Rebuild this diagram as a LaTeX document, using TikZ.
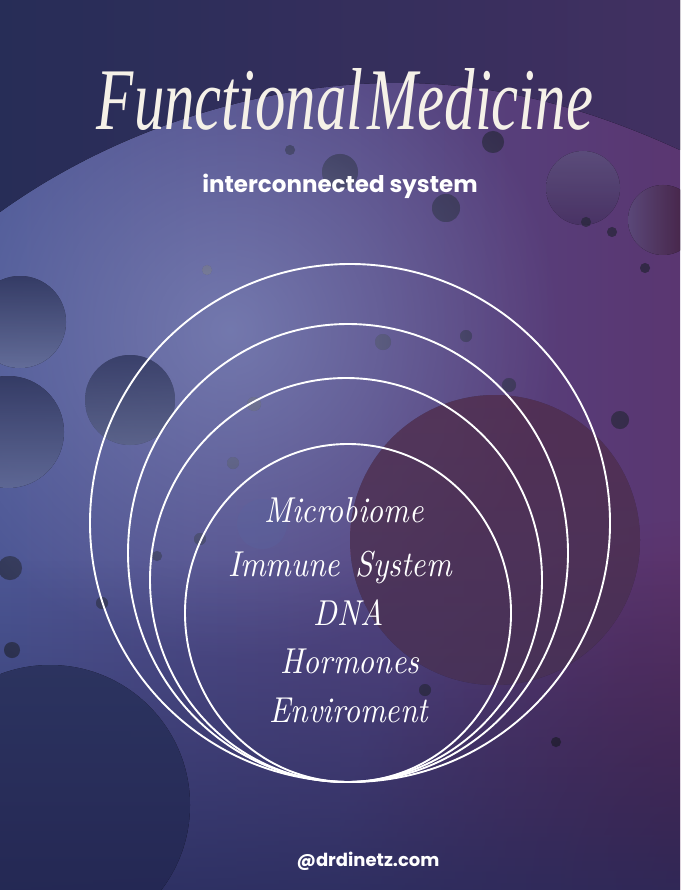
\documentclass[tikz,border=0pt]{standalone}
\usepackage{fontspec}
\usepackage{xcolor}
\newfontfamily\popfont{Poppins}
\newfontfamily\titlefont{Liberation Serif}
\newfontfamily\organfont{lmroman10-italic.otf}
\usetikzlibrary{fadings}

\definecolor{bgnavy}{HTML}{2A315E}
\definecolor{bgblue}{HTML}{4D5795}
\definecolor{bgslate}{HTML}{8A96C6}
\definecolor{bgpurple}{HTML}{5A3671}
\definecolor{bgwine}{HTML}{5A1A3C}
\definecolor{bgdeep}{HTML}{262A5A}
\definecolor{mauve}{HTML}{74426F}
\definecolor{cream}{HTML}{F5F1E8}

\tikzfading[name=softglow, inner color=transparent!0, outer color=transparent!100]
\tikzfading[name=fadeup, top color=transparent!100, bottom color=transparent!0]

\newcommand{\squeeze}[1]{\scalebox{0.87}[1]{#1}}

\begin{document}
\begin{tikzpicture}[
    x=1pt, y=-1pt,
    ring/.style={draw=white, line width=1.9pt},
    sphere/.style={opacity=0.55},
    bubble/.style={ball color=bgslate!80!bgblue, opacity=0.4},
    title/.style={text=cream, font=\titlefont\itshape, inner sep=0pt},
    subtitle/.style={text=white, font=\popfont\bfseries\fontsize{23}{26}\selectfont, inner sep=0pt},
    handle/.style={text=white, font=\popfont\bfseries\fontsize{18}{20}\selectfont, inner sep=0pt},
    organ/.style={text=white, font=\organfont\fontsize{36}{40}\selectfont, anchor=base, inner sep=0pt},
]

\useasboundingbox (0,0) rectangle (680,890);
\clip (0,0) rectangle (680,890);

% background
\fill[left color=bgblue, right color=bgpurple] (0,0) rectangle (680,890);
\fill[bgslate, opacity=0.6, path fading=softglow] (230,330) circle (330);
\fill[bgwine, opacity=0.8, path fading=softglow] (700,880) circle (360);
\fill[bgdeep, opacity=0.8, path fading=fadeup] (0,560) rectangle (680,890);
\fill[left color=bgnavy, right color=bgpurple!60!bgnavy, opacity=0.92]
    (0,0) -- (680,0) -- (680,150) .. controls (560,95) and (460,78) .. (360,84)
    .. controls (230,92) and (100,140) .. (0,212) -- cycle;

% spheres
\fill[sphere, top color=mauve, bottom color=mauve!70!bgblue] (495,540) circle (145);
\fill[top color=bgblue!80!black, bottom color=bgslate!70!bgblue, opacity=0.8] (20,322) circle (46);
\fill[top color=bgblue!80!black, bottom color=bgslate!60!bgblue, opacity=0.8] (8,432) circle (56);
\fill[top color=bgblue!90!black, bottom color=bgslate!80!bgblue, opacity=0.6] (130,400) circle (45);
\fill[top color=bgnavy!80!bgblue, bottom color=bgdeep, opacity=0.9] (50,805) circle (140);
\fill[top color=bgpurple!60!bgslate, bottom color=bgpurple!80!bgblue, opacity=0.8] (583,188) circle (37);
\fill[left color=bgpurple!70!bgslate, right color=bgwine!70!bgnavy, opacity=0.85] (663,220) circle (35);
\fill[bgblue!80!bgslate, opacity=0.35] (262,524) circle (25);

% bubbles
\fill[bubble] (340,172) circle (18) (446,208) circle (14) (493,142) circle (11)
    (383,342) circle (8) (466,336) circle (6) (509,385) circle (7)
    (254,404) circle (7) (233,463) circle (6) (200,539) circle (6)
    (157,556) circle (5) (102,603) circle (6) (10,568) circle (12)
    (12,650) circle (8) (620,420) circle (9) (207,270) circle (5)
    (290,150) circle (5) (425,690) circle (6) (586,222) circle (5)
    (645,268) circle (5) (612,232) circle (5) (556,742) circle (5);

% rings
\draw[ring] (350,523) ellipse [x radius=260, y radius=259];
\draw[ring] (348,553) ellipse [x radius=220, y radius=229];
\draw[ring] (346,580) ellipse [x radius=196, y radius=202];
\draw[ring] (348,613) ellipse [x radius=163, y radius=169];

% texts
\node[title, anchor=base] (title) at (345,130) {\resizebox{496pt}{61pt}{Functional\hspace{0.06em}Medicine}};
\node[subtitle, anchor=base] (sub) at (340,193) {interconnected system};

\node[organ] (micro) at (344,522) {\squeeze{Microbiome}};
\node[organ] (immune) at (340,576) {\squeeze{Immune\hspace{0.5em}System}};
\node[organ] (dna) at (349,625) {\squeeze{DNA}};
\node[organ] (horm) at (350,673) {\squeeze{Hormones}};
\node[organ] (env) at (349,722) {\squeeze{Enviroment}};

\node[handle, anchor=base] (handle) at (368,866) {@drdinetz.com};

\end{tikzpicture}
\end{document}
